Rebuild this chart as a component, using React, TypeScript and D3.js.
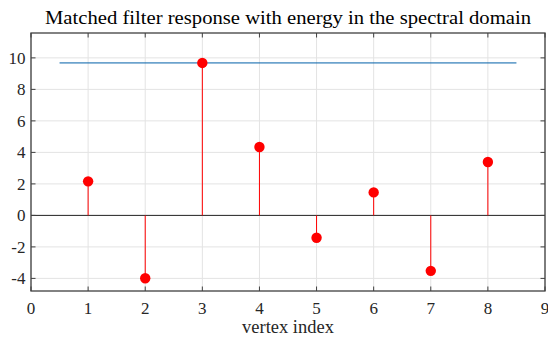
import React from "react";
import * as d3 from "d3";

const vertices = [1, 2, 3, 4, 5, 6, 7, 8];
const response = [2.16, -3.99, 9.68, 4.34, -1.42, 1.46, -3.52, 3.39];
const energyLevel = 9.68;
const energySpan = [0.5, 8.5];
const xTicks = [0, 1, 2, 3, 4, 5, 6, 7, 8, 9];
const yTicks = [-4, -2, 0, 2, 4, 6, 8, 10];
const title = "Matched filter response with energy in the spectral domain";
const xLabel = "vertex index";

const W = 548, H = 337;
const L = 31, R = 545, T = 33, B = 291;

export default function App() {
  const x = d3.scaleLinear().domain([0, 9]).range([L, R]);
  const y = d3.scaleLinear().domain([-4.8, 11.58]).range([B, T]);
  const font = "'Liberation Serif', 'Times New Roman', serif";
  const axisColor = "#404040";
  return (
    <svg width={W} height={H} style={{ position: "absolute", left: 0, top: 0, background: "#fff" }}>
      <rect x={0} y={0} width={W} height={H} fill="#fff" />
      {xTicks.map((t) => (
        <line key={"gx" + t} x1={x(t)} x2={x(t)} y1={T} y2={B} stroke="#e3e3e3" strokeWidth={1} />
      ))}
      {yTicks.map((t) => (
        <line key={"gy" + t} x1={L} x2={R} y1={y(t)} y2={y(t)} stroke="#e3e3e3" strokeWidth={1} />
      ))}
      <line x1={L} x2={R} y1={y(0)} y2={y(0)} stroke="#262626" strokeWidth={1} />
      <line x1={x(energySpan[0])} x2={x(energySpan[1])} y1={y(energyLevel)} y2={y(energyLevel)} stroke="#0060A8" strokeWidth={1} />
      {vertices.map((v, i) => (
        <g key={"s" + v}>
          <line x1={x(v)} x2={x(v)} y1={y(0)} y2={y(response[i])} stroke="#ff0000" strokeWidth={1} />
          <circle cx={x(v)} cy={y(response[i])} r={5.2} fill="#ff0000" />
        </g>
      ))}
      <rect x={L} y={T} width={R - L} height={B - T} fill="none" stroke={axisColor} strokeWidth={1.3} />
      {xTicks.map((t) => (
        <g key={"tx" + t}>
          <line x1={x(t)} x2={x(t)} y1={B} y2={B - 4.5} stroke={axisColor} strokeWidth={1} />
          <line x1={x(t)} x2={x(t)} y1={T} y2={T + 4.5} stroke={axisColor} strokeWidth={1} />
          <text x={x(t)} y={314} textAnchor="middle" fontFamily={font} fontSize={17} fill="#262626">{t}</text>
        </g>
      ))}
      {yTicks.map((t) => (
        <g key={"ty" + t}>
          <line x1={L} x2={L + 4.5} y1={y(t)} y2={y(t)} stroke={axisColor} strokeWidth={1} />
          <line x1={R} x2={R - 4.5} y1={y(t)} y2={y(t)} stroke={axisColor} strokeWidth={1} />
          <text x={25.5} y={y(t) + 6} textAnchor="end" fontFamily={font} fontSize={17} fill="#262626">{t}</text>
        </g>
      ))}
      <text x={(L + R) / 2} y={24} textAnchor="middle" fontFamily={font} fontSize={18} textLength={486} lengthAdjust="spacingAndGlyphs" fill="#000">{title}</text>
      <text x={(L + R) / 2} y={333} textAnchor="middle" fontFamily={font} fontSize={18.5} fill="#262626">{xLabel}</text>
    </svg>
  );
}
